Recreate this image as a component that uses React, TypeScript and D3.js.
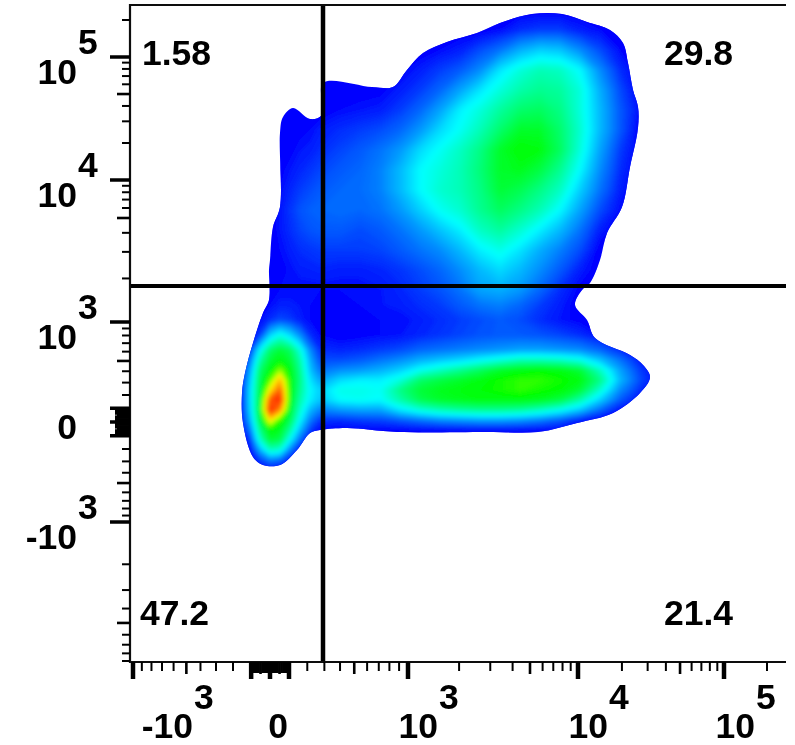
import React, { useEffect, useRef } from 'react';
import * as d3 from 'd3';

// cytometer channels of the density grid (0..656 on both axes)
const gridX = [110, 120, 130, 140, 150, 160, 170, 180, 190, 210, 230, 250, 270, 290, 310, 330, 350, 370, 390, 410, 430, 450, 470, 490, 510, 530];
const gridY = [651, 631, 611, 591, 571, 551, 531, 511, 491, 471, 451, 431, 411, 391, 371, 356, 341, 326, 311, 301, 291, 281, 271, 261, 251, 241, 231, 221, 211, 201, 191];

// density level, one row per gridY: 1 = blue, 3 = cyan, 5 = green, 6 = yellow, 8 = red
const density = [
  [1, 1, 1, 1, 1, 1, 1, 1, 1, 1, 1, 1, 1, 1, 1, 1, 1, 1, 1, 1, 1, 1, 1, 1, 1, 1],
  [1, 1, 1, 1, 1, 1, 1, 1, 1, 1, 1, 1, 1, 1, 1, 1, 1, 1.1, 1.3, 1.4, 1.4, 1.2, 1.1, 1, 1, 1],
  [1, 1, 1, 1, 1, 1, 1, 1, 1, 1, 1, 1, 1, 1, 1.1, 1.2, 1.5, 1.8, 2.3, 2.6, 2.5, 2, 1.5, 1.1, 1, 1],
  [1, 1, 1, 1, 1, 1, 1, 1, 1, 1, 1, 1, 1.05, 1.2, 1.4, 1.6, 2, 2.8, 3.3, 3.6, 3.5, 3, 2, 1.3, 1, 1],
  [1, 1, 1, 1, 1, 1, 1, 1, 1, 1, 1.02, 1.05, 1.2, 1.4, 1.7, 2.2, 2.8, 3.3, 3.7, 3.9, 3.8, 3.3, 2.3, 1.5, 1, 1],
  [1, 1, 1, 1, 1, 1, 1, 1, 1, 1.1, 1.15, 1.2, 1.4, 1.7, 2.2, 2.9, 3.3, 3.8, 4.2, 4.3, 4, 3.3, 2.4, 1.6, 1.1, 1],
  [1, 1, 1, 1, 1, 1, 1.05, 1.1, 1.2, 1.3, 1.4, 1.5, 1.7, 2.1, 2.7, 3.1, 3.6, 4.2, 4.7, 4.7, 4.2, 3.4, 2.4, 1.6, 1, 1],
  [1, 1, 1, 1, 1, 1.05, 1.15, 1.2, 1.3, 1.45, 1.6, 1.8, 2.1, 2.7, 3.1, 3.5, 4, 4.7, 5, 4.9, 4.3, 3.3, 2.2, 1.4, 1, 1],
  [1, 1, 1, 1, 1.05, 1.15, 1.25, 1.35, 1.45, 1.6, 1.7, 1.9, 2.4, 3, 3.3, 3.6, 4.1, 4.7, 4.8, 4.5, 3.9, 3, 2, 1.3, 1, 1],
  [1, 1, 1, 1, 1.1, 1.25, 1.4, 1.5, 1.6, 1.7, 1.75, 1.9, 2.4, 3, 3.4, 3.6, 4, 4.6, 4.4, 4, 3.5, 2.6, 1.8, 1.2, 1, 1],
  [1, 1, 1, 1, 1.15, 1.35, 1.55, 1.65, 1.7, 1.75, 1.7, 1.8, 2.1, 2.6, 3.1, 3.4, 3.9, 4.3, 4, 3.6, 3, 2.2, 1.5, 1.1, 1, 1],
  [1, 1, 1, 1, 1.15, 1.3, 1.45, 1.55, 1.6, 1.6, 1.5, 1.6, 1.8, 2.1, 2.5, 2.9, 3.5, 3.8, 3.4, 2.9, 2.4, 1.8, 1.2, 1, 1, 1],
  [1, 1, 1, 1, 1.1, 1.2, 1.3, 1.35, 1.4, 1.4, 1.4, 1.45, 1.6, 1.8, 2, 2.4, 2.9, 3.2, 2.8, 2.3, 1.9, 1.5, 1, 1, 1, 1],
  [1, 1, 1, 1, 1.05, 1.12, 1.2, 1.22, 1.25, 1.2, 1.2, 1.25, 1.35, 1.5, 1.7, 2, 2.4, 2.7, 2.4, 2, 1.6, 1.2, 1, 1, 1, 1],
  [1, 1, 1, 1.05, 1.1, 1.1, 1.1, 1.1, 1.1, 1.1, 1.1, 1.15, 1.25, 1.4, 1.55, 1.8, 2.2, 2.3, 2.1, 1.7, 1.3, 1.05, 1, 1, 1, 1],
  [1, 1, 1, 1.1, 1.2, 1.2, 1.15, 1.1, 1.05, 1.05, 1.1, 1.15, 1.2, 1.3, 1.4, 1.6, 1.8, 1.9, 1.7, 1.4, 1.2, 1, 1, 1, 1, 1],
  [1, 1, 1.1, 1.3, 1.5, 1.4, 1.2, 1.1, 1.05, 1, 1.05, 1.1, 1.1, 1.2, 1.3, 1.4, 1.5, 1.6, 1.5, 1.3, 1.15, 1.05, 1, 1, 1, 1],
  [1, 1, 1.4, 2.6, 3.2, 2.7, 2, 1.3, 1.1, 1, 1.05, 1.1, 1.15, 1.25, 1.35, 1.45, 1.55, 1.6, 1.6, 1.55, 1.45, 1.3, 1.1, 1, 1, 1],
  [1, 1.3, 3, 4.2, 4.6, 4.3, 3.3, 2, 1.3, 1.25, 1.3, 1.4, 1.5, 1.7, 1.8, 1.9, 2, 2.1, 2.2, 2.2, 2.1, 2, 1.7, 1.3, 1, 1],
  [1, 1.8, 3.7, 4.6, 4.9, 4.6, 3.7, 2.3, 1.5, 1.5, 1.6, 1.8, 2, 2.3, 2.5, 2.7, 3, 3.3, 3.6, 3.6, 3.5, 3.2, 2.5, 1.8, 1.2, 1],
  [1, 2.2, 4.2, 4.9, 5.6, 4.9, 3.9, 2.5, 1.8, 2, 2.1, 2.3, 2.6, 3.1, 3.5, 3.9, 4.3, 4.7, 4.9, 5, 4.9, 4.6, 3.5, 2.2, 1.4, 1],
  [1, 2.5, 4.4, 5.4, 6.6, 5, 4, 2.8, 2.2, 2.7, 2.9, 2.9, 3.3, 4.2, 4.5, 4.7, 4.9, 5.1, 5.2, 5.2, 5.1, 4.9, 4, 2.4, 1.5, 1],
  [1, 2.7, 4.5, 6.2, 7.3, 5, 3.9, 3, 2.6, 3.2, 3.2, 3.1, 4, 4.6, 4.8, 4.9, 5, 5.1, 5.2, 5.1, 5, 4.6, 3.4, 2, 1.3, 1],
  [1, 2.7, 4.6, 7.4, 7.8, 4.9, 3.7, 2.9, 2.5, 3, 3.1, 3, 3.7, 4.4, 4.7, 4.8, 4.9, 4.9, 4.9, 4.8, 4.5, 3.7, 2.6, 1.6, 1.1, 1],
  [1, 2.6, 4.7, 7.8, 6.9, 4.7, 3.4, 2.4, 1.9, 2.1, 2.2, 2.2, 2.8, 3.3, 3.6, 3.8, 3.9, 3.9, 3.8, 3.5, 3.1, 2.5, 1.7, 1.1, 1, 1],
  [1, 2.3, 4.5, 6.3, 5.2, 4.4, 3, 1.9, 1.35, 1.3, 1.4, 1.45, 1.6, 1.8, 2, 2.1, 2.2, 2.2, 2.1, 1.9, 1.6, 1.2, 1, 1, 1, 1],
  [1, 1.8, 4, 5, 4.8, 3.8, 2.4, 1.4, 1.05, 1.05, 1.05, 1.05, 1.05, 1.05, 1.05, 1.05, 1.05, 1.05, 1.05, 1.05, 1.05, 1, 1, 1, 1, 1],
  [1, 1.3, 3.4, 4.6, 4.4, 3, 1.7, 1.05, 1, 1, 1, 1, 1, 1, 1, 1, 1, 1, 1, 1, 1, 1, 1, 1, 1, 1],
  [1, 1.05, 2.3, 3.5, 3.3, 1.9, 1.1, 1, 1, 1, 1, 1, 1, 1, 1, 1, 1, 1, 1, 1, 1, 1, 1, 1, 1, 1],
  [1, 1, 1.4, 1.9, 1.7, 1.2, 1, 1, 1, 1, 1, 1, 1, 1, 1, 1, 1, 1, 1, 1, 1, 1, 1, 1, 1, 1],
  [1, 1, 1, 1, 1, 1, 1, 1, 1, 1, 1, 1, 1, 1, 1, 1, 1, 1, 1, 1, 1, 1, 1, 1, 1, 1],
];

// outer edge of the population, in channels
const outline = [
  [153, 544], [163, 553], [180, 542], [192, 546], [193, 578], [242, 574], [263, 574], [277, 591], [293, 608],
  [317, 619], [347, 628], [370, 638], [402, 647], [432, 647], [457, 639], [480, 631], [493, 618], [498, 598],
  [503, 571], [508, 554], [508, 533], [500, 494], [492, 454], [477, 428], [470, 401], [460, 378], [452, 371],
  [445, 356], [457, 341], [465, 323], [500, 306], [513, 296], [520, 284], [510, 268], [483, 248], [447, 238],
  [408, 229], [357, 229], [267, 229], [217, 233], [190, 231], [180, 228], [167, 211], [150, 196], [133, 196],
  [123, 204], [113, 238], [112, 268], [115, 288], [123, 318], [133, 348], [139, 361], [139, 391], [140, 401],
  [143, 434], [150, 454], [150, 528],
];

const levelStops = [1, 1.5, 2, 3, 4, 5, 6, 7, 8];
const levelColors = ['#0000ff', '#0050ff', '#0090ff', '#00ffff', '#00ff80', '#00ff00', '#ffff00', '#ff8000', '#ff0000'];

// biexponential axis: anchors of the transformed value
const xAnchors = [-1000, 0, 1000, 5000, 10000, 100000, 200000];
const yAnchors = [-9000, -1000, 0, 1000, 5000, 10000, 100000, 200000];

const upperTicks = [20000, 30000, 40000, 50000, 60000, 70000, 80000, 90000, 100000, 200000];
const negativeY = [-2000, -3000, -4000, -5000, -6000, -7000, -8000, -9000];

const xLabels = [
  { value: -1000, base: '-10', exp: '3', end: 60 },
  { value: 0, base: '0', exp: '', end: 18 },
  { value: 1000, base: '10', exp: '3', end: 30 },
  { value: 10000, base: '10', exp: '4', end: 30 },
  { value: 100000, base: '10', exp: '5', end: 31 },
];
const yLabels = [
  { value: 100000, base: '10', exp: '5' },
  { value: 10000, base: '10', exp: '4' },
  { value: 1000, base: '10', exp: '3' },
  { value: 0, base: '0', exp: '' },
  { value: -1000, base: '-10', exp: '3' },
];
const quadrantLabels = [
  { text: '1.58', cx: 12, cy: 596 },
  { text: '29.8', cx: 534, cy: 596 },
  { text: '47.2', cx: 10, cy: 36 },
  { text: '21.4', cx: 534, cy: 36 },
];
const gateX = 193;
const gateY = 375;

const FONT = '"Liberation Sans", Arial, sans-serif';

const App = () => {
  const svgRef = useRef(null);

  useEffect(() => {
    const root = d3.select(svgRef.current);
    root.selectAll('*').remove();

    const left = 130, right = 786, top = 5, bottom = 661;
    const chX = d3.scaleLinear().domain([0, 656]).range([left, right]);
    const chY = d3.scaleLinear().domain([0, 656]).range([bottom, top]);

    const t = (v) => Math.asinh(v / 500);
    const xT = d3.scaleLinear().domain(xAnchors.map(t)).range([133, 270, 408, 530, 578, 724, 767]);
    const yT = d3.scaleLinear().domain(yAnchors.map(t)).range([661, 522, 422, 322, 218, 180, 57, 20]);
    const xVal = (v) => xT(t(v));
    const yVal = (v) => yT(t(v));

    // density plot
    const colX = d3.scaleLinear().domain(d3.range(gridX.length)).range(gridX.map(chX));
    const rowY = d3.scaleLinear().domain(d3.range(gridY.length)).range(gridY.map(chY));
    const color = d3.scaleLinear().domain(levelStops).range(levelColors).clamp(true);
    const thresholds = d3.range(1.04, 8, 0.06);
    const contours = d3.contours()
      .size([gridX.length, gridY.length])
      .thresholds(thresholds)(density.flat());
    const path = d3.geoPath(d3.geoTransform({
      point(x, y) {
        this.stream.point(colX(x - 0.5), rowY(y - 0.5));
      },
    }));
    const edge = d3.line()
      .x((d) => chX(d[0]))
      .y((d) => chY(d[1]))
      .curve(d3.curveCatmullRomClosed.alpha(0.5))(outline);

    const defs = root.append('defs');
    defs.append('clipPath').attr('id', 'population').append('path').attr('d', edge);
    defs.append('filter').attr('id', 'soften')
      .attr('x', '-5%').attr('y', '-5%').attr('width', '110%').attr('height', '110%')
      .append('feGaussianBlur').attr('stdDeviation', 2);
    // the reference is an upscaled bitmap, everything has slightly soft edges
    defs.append('filter').attr('id', 'scan')
      .attr('filterUnits', 'userSpaceOnUse')
      .attr('x', 0).attr('y', 0).attr('width', 795).attr('height', 745)
      .append('feGaussianBlur').attr('stdDeviation', 0.55);

    const svg = root.append('g').attr('filter', 'url(#scan)');

    svg.append('path').attr('d', edge).attr('fill', '#0000ff');
    svg.append('g')
      .attr('clip-path', 'url(#population)')
      .append('g')
      .attr('filter', 'url(#soften)')
      .selectAll('path')
      .data(contours)
      .enter()
      .append('path')
      .attr('d', path)
      .attr('fill', (d) => color(d.value));

    // gates
    svg.append('line')
      .attr('x1', left).attr('x2', right)
      .attr('y1', chY(gateY)).attr('y2', chY(gateY))
      .attr('stroke', '#000').attr('stroke-width', 4);
    svg.append('line')
      .attr('x1', chX(gateX)).attr('x2', chX(gateX))
      .attr('y1', top).attr('y2', bottom)
      .attr('stroke', '#000').attr('stroke-width', 4.5);

    // frame
    svg.append('path')
      .attr('d', `M${right},${top}H${left}V${bottom + 1}H${right}`)
      .attr('fill', 'none').attr('stroke', '#111').attr('stroke-width', 2.2);

    // ticks: major at decades and zero, medium at fives, minor elsewhere
    const kind = (v) => {
      const a = Math.abs(v);
      if (a === 0) return 'major';
      const m = Math.pow(10, Math.floor(Math.log10(a) + 1e-9));
      const lead = Math.round(a / m);
      if (a < 100) return lead === 5 ? 'medium' : 'dense';
      if (lead === 1) return 'major';
      return lead === 5 ? 'medium' : 'minor';
    };
    const xLen = { major: 17, medium: 12, minor: 9, dense: 11 };
    const yLen = { major: 20, medium: 13, minor: 8, dense: 15 };
    const xWid = { major: 4.5, medium: 2.6, minor: 2, dense: 2.6 };
    const yWid = { major: 3.5, medium: 2.6, minor: 2, dense: 2.2 };

    const nearZero = d3.range(-100, 101, 10);
    const hundreds = d3.range(200, 1001, 100);
    const thousands = d3.range(2000, 10001, 1000);
    const xTicks = [
      ...hundreds.map((v) => -v), ...nearZero, ...hundreds, ...thousands, ...upperTicks,
    ];
    const yTicks = [
      ...negativeY, ...hundreds.map((v) => -v), ...nearZero, ...hundreds, ...thousands, ...upperTicks,
    ];

    svg.append('g').selectAll('line').data(xTicks).enter().append('line')
      .attr('x1', (d) => xVal(d)).attr('x2', (d) => xVal(d))
      .attr('y1', bottom + 1).attr('y2', (d) => bottom + 1 + xLen[kind(d)])
      .attr('stroke', '#000').attr('stroke-width', (d) => xWid[kind(d)]);
    svg.append('g').selectAll('line').data(yTicks).enter().append('line')
      .attr('y1', (d) => yVal(d)).attr('y2', (d) => yVal(d))
      .attr('x1', left).attr('x2', (d) => left - yLen[kind(d)])
      .attr('stroke', '#000').attr('stroke-width', (d) => yWid[kind(d)]);

    const label = (x, y, text, anchor = 'start') => svg.append('text')
      .attr('x', x).attr('y', y).attr('text-anchor', anchor)
      .attr('font-family', FONT).attr('font-weight', 'bold').attr('font-size', 35.5)
      .attr('fill', '#000').text(text);

    xLabels.forEach((d) => {
      const end = xVal(d.value) + d.end;
      label(end, 738, d.base, 'end');
      if (d.exp) label(end + 1, 709, d.exp);
    });
    yLabels.forEach((d) => {
      const y = yVal(d.value);
      label(77, y + (d.exp ? 27 : 17), d.base, 'end');
      if (d.exp) label(78, y - 3, d.exp);
    });
    quadrantLabels.forEach((d) => {
      label(chX(d.cx), chY(d.cy), d.text);
    });
  }, []);

  return (
    <div>
      <svg
        ref={svgRef}
        width={795}
        height={745}
        style={{ position: 'absolute', left: 0, top: 0, background: '#fff' }}
      />
    </div>
  );
};

export default App;
